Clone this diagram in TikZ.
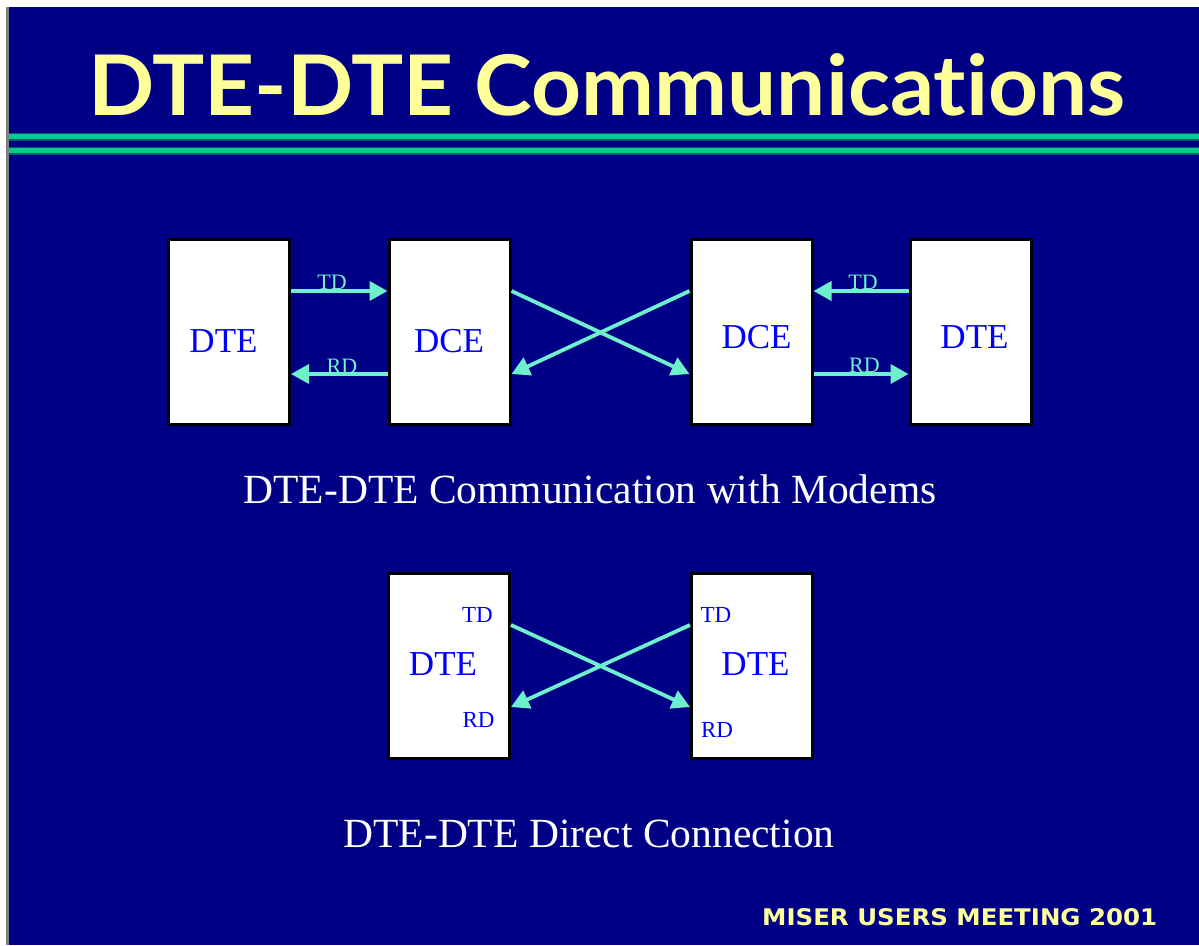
\documentclass[tikz,border=0pt]{standalone}
\usepackage{fontspec}
\setmainfont{Liberation Serif}
\newfontfamily\titlefont[Ligatures=NoCommon]{Lato}
\newfontfamily\footfont{DejaVu Sans}
\usepackage{graphicx}
\usetikzlibrary{arrows.meta, positioning}

\definecolor{slidenavy}{RGB}{0, 0, 135}
\definecolor{slideyellow}{RGB}{255, 255, 153}
\definecolor{rulegreen}{RGB}{0, 205, 145}
\definecolor{ruledark}{RGB}{0, 95, 90}
\definecolor{sigaqua}{RGB}{110, 240, 205}
\definecolor{labblue}{RGB}{0, 0, 255}

\begin{document}
\begin{tikzpicture}[x=1pt, y=-1pt,
  ubox/.style={draw=black, line width=3pt, fill=white, minimum width=121pt, minimum height=185pt, inner sep=0pt},
  boxtxt/.style={text=labblue, font=\fontsize{35}{40}\selectfont, anchor=base, inner sep=0pt},
  pintxt/.style={text=labblue, font=\fontsize{23}{26}\selectfont, anchor=base, inner sep=0pt},
  sigtxt/.style={text=sigaqua, font=\fontsize{22}{25}\selectfont, anchor=base, inner sep=0pt},
  captxt/.style={text=white, font=\fontsize{41.5}{46}\selectfont, anchor=base, inner sep=0pt},
  sig/.style={draw=sigaqua, line width=3.8pt, -{Triangle[length=18pt, width=19pt]}}
]
  % slide background
  \fill[white] (0,0) rectangle (1199,945);
  \fill[slidenavy] (9,7) rectangle (1199,945);
  \fill[gray] (6,7) rectangle (9,945);
  \useasboundingbox (0,0) rectangle (1199,945);

  % title and rule
  \node[anchor=base west, inner sep=0pt, text=slideyellow] (title) at (88,115)
    {\resizebox{1037pt}{62pt}{\titlefont\bfseries DTE-DTE Communications}};
  \foreach \ry in {136.5, 150.5} {
    \draw[ruledark, line width=8pt] (9,\ry) -- (1199,\ry);
    \draw[rulegreen, line width=5pt] (9,\ry) -- (1199,\ry);
  }

  % with modems
  \node[ubox] (dteA) at (229,332) {};
  \node[ubox] (dceA) at (449.5,332) {};
  \node[ubox] (dceB) at (751.5,332) {};
  \node[ubox] (dteB) at (970.5,332) {};
  \node[boxtxt] (dteAtxt) at (223.5,352) {DTE};
  \node[boxtxt] (dceAtxt) at (449,352) {DCE};
  \node[boxtxt] (dceBtxt) at (756.5,348) {DCE};
  \node[boxtxt] (dteBtxt) at (974.5,348) {DTE};

  \draw[sig] ([yshift=41pt]dteA.east) -- ([yshift=41pt]dceA.west);
  \draw[sig] ([yshift=-42pt]dceA.west) -- ([yshift=-42pt]dteA.east);
  \draw[sig] ([yshift=41pt]dceA.east) -- ([yshift=-42pt]dceB.west);
  \draw[sig] ([yshift=41pt]dceB.west) -- ([yshift=-42pt]dceA.east);
  \draw[sig] ([yshift=41pt]dteB.west) -- ([yshift=41pt]dceB.east);
  \draw[sig] ([yshift=-42pt]dceB.east) -- ([yshift=-42pt]dteB.west);

  \node[sigtxt] (tdA) at (332,289) {TD};
  \node[sigtxt] (rdA) at (342,373) {RD};
  \node[sigtxt] (tdB) at (863,289) {TD};
  \node[sigtxt] (rdB) at (864.5,372) {RD};

  \node[captxt] (capA) at (590,503) {DTE-DTE Communication with Modems};

  % direct connection
  \node[ubox] (dteC) at (449,666) {};
  \node[ubox] (dteD) at (752,666) {};
  \node[boxtxt] (dteCtxt) at (443,675) {DTE};
  \node[boxtxt] (dteDtxt) at (755.5,675) {DTE};
  \node[pintxt] (tdC) at (477.5,622) {TD};
  \node[pintxt] (rdC) at (478.5,727) {RD};
  \node[pintxt] (tdD) at (716,622) {TD};
  \node[pintxt] (rdD) at (717,737) {RD};

  \draw[sig] ([yshift=41pt]dteC.east) -- ([yshift=-41pt]dteD.west);
  \draw[sig] ([yshift=41pt]dteD.west) -- ([yshift=-41pt]dteC.east);

  \node[captxt] (capB) at (589,847) {DTE-DTE Direct Connection};

  % footer
  \node[anchor=base west, inner sep=0pt, text=slideyellow] (footer) at (762,925)
    {\resizebox{395pt}{17pt}{\footfont\bfseries MISER USERS MEETING 2001}};
\end{tikzpicture}
\end{document}
